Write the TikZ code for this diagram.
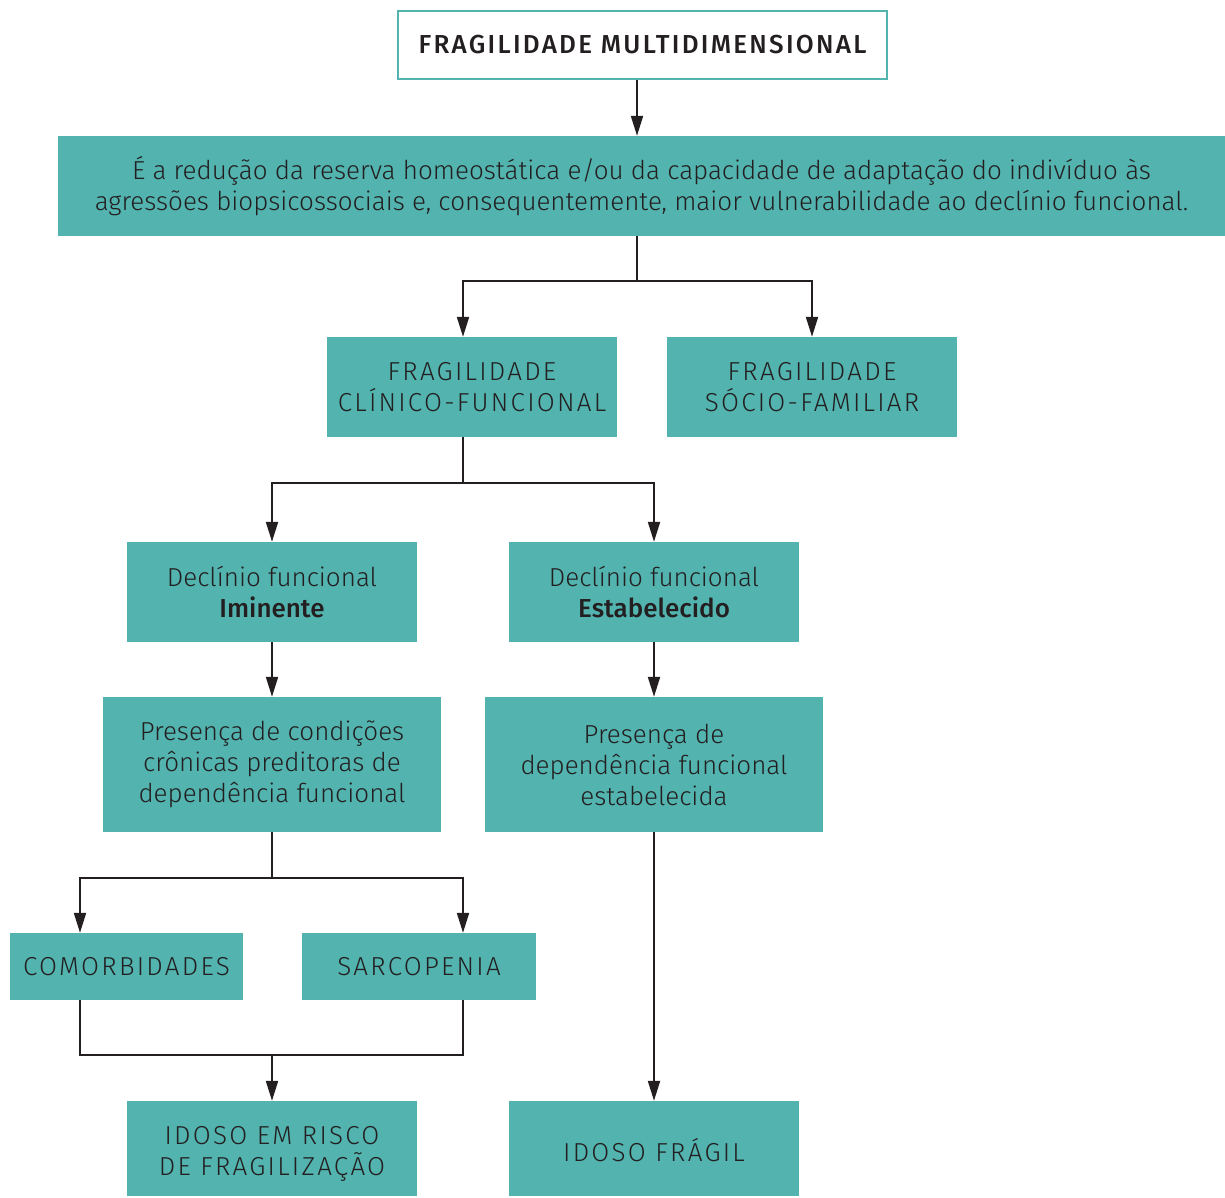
\documentclass[tikz,border=0pt]{standalone}
\usepackage{fontspec}
\setmainfont{Fira Sans}[UprightFont=* Light, BoldFont=* Medium]
\newfontfamily\capsfont{Fira Sans}[UprightFont=* Light, BoldFont=* Medium, LetterSpace=8.7]
\usetikzlibrary{arrows.meta}
\definecolor{teal}{HTML}{52B3AF}
\definecolor{ink}{HTML}{231F20}
\begin{document}
\begin{tikzpicture}[x=1pt,y=-1pt,
  box/.style={fill=teal,draw=none,text=ink,align=center,font=\fontsize{26}{31}\selectfont,inner sep=0pt},
  capsbox/.style={box,font=\fontsize{26}{31}\selectfont\capsfont},
  conn/.style={draw=ink,line width=2pt},
  arr/.style={conn,-{Triangle[length=20pt,width=12pt]}}]
\useasboundingbox (0,0) rectangle (1225,1197);
% boxes
\node[draw=teal,line width=2pt,fill=white,text=ink,font=\fontsize{26}{31}\selectfont\capsfont\bfseries,minimum width=489pt,minimum height=68pt,inner sep=0pt] (top) at (642.5,45) {FRAGILIDADE MULTIDIMENSIONAL};
\node[box,minimum width=1167pt,minimum height=100pt] (def) at (641.5,186) {É a redução da reserva homeostática e/ou da capacidade de adaptação do indivíduo às\\agressões biopsicossociais e, consequentemente, maior vulnerabilidade ao declínio funcional.};
\node[capsbox,minimum width=290pt,minimum height=100pt] (fcf) at (472,387) {FRAGILIDADE\\CLÍNICO-FUNCIONAL};
\node[capsbox,minimum width=290pt,minimum height=100pt] (fsf) at (812,387) {FRAGILIDADE\\SÓCIO-FAMILIAR};
\node[box,minimum width=290pt,minimum height=100pt] (dfi) at (272,592) {Declínio funcional\\\textbf{Iminente}};
\node[box,minimum width=290pt,minimum height=100pt] (dfe) at (654,592) {Declínio funcional\\\textbf{Estabelecido}};
\node[box,minimum width=338pt,minimum height=135pt] (pcc) at (272,764.5) {Presença de condições\\crônicas preditoras de\\dependência funcional};
\node[box,minimum width=338pt,minimum height=135pt] (pdf) at (654,764.5) {Presença de\\dependência funcional\\estabelecida};
\node[capsbox,minimum width=233pt,minimum height=67pt] (com) at (126.5,966.5) {COMORBIDADES};
\node[capsbox,minimum width=234pt,minimum height=67pt] (sar) at (419,966.5) {SARCOPENIA};
\node[capsbox,minimum width=290pt,minimum height=95pt] (risco) at (272,1148.5) {\rule{0pt}{28pt}IDOSO EM RISCO\\DE FRAGILIZAÇÃO};
\node[capsbox,minimum width=290pt,minimum height=95pt] (fragil) at (654,1148.5) {\rule{0pt}{26pt}IDOSO FRÁGIL};
% coordinates
\coordinate (j1) at (637,281);
\coordinate (j2) at (463,483);
\coordinate (j3) at (272,878);
\coordinate (j4) at (272,1055);
% connectors
\draw[arr] (top.south -| 637,0) -- (def.north -| 637,0);
\draw[conn] (def.south -| j1) -- (j1);
\draw[arr] (j1) -| (fcf.north -| 463,0);
\draw[arr] (j1) -| (fsf.north);
\draw[conn] (fcf.south -| j2) -- (j2);
\draw[arr] (j2) -| (dfi.north);
\draw[arr] (j2) -| (dfe.north);
\draw[arr] (dfi) -- (pcc);
\draw[arr] (dfe) -- (pdf);
\draw[conn] (pcc.south) -- (j3);
\draw[arr] (j3) -| (com.north -| 80,0);
\draw[arr] (j3) -| (sar.north -| 463,0);
\draw[conn,line join=miter] (com.south -| 80,0) |- (j4) -| (sar.south -| 463,0);
\draw[arr] (j4) -- (risco.north);
\draw[arr] (pdf.south) -- (fragil.north);
\end{tikzpicture}
\end{document}
